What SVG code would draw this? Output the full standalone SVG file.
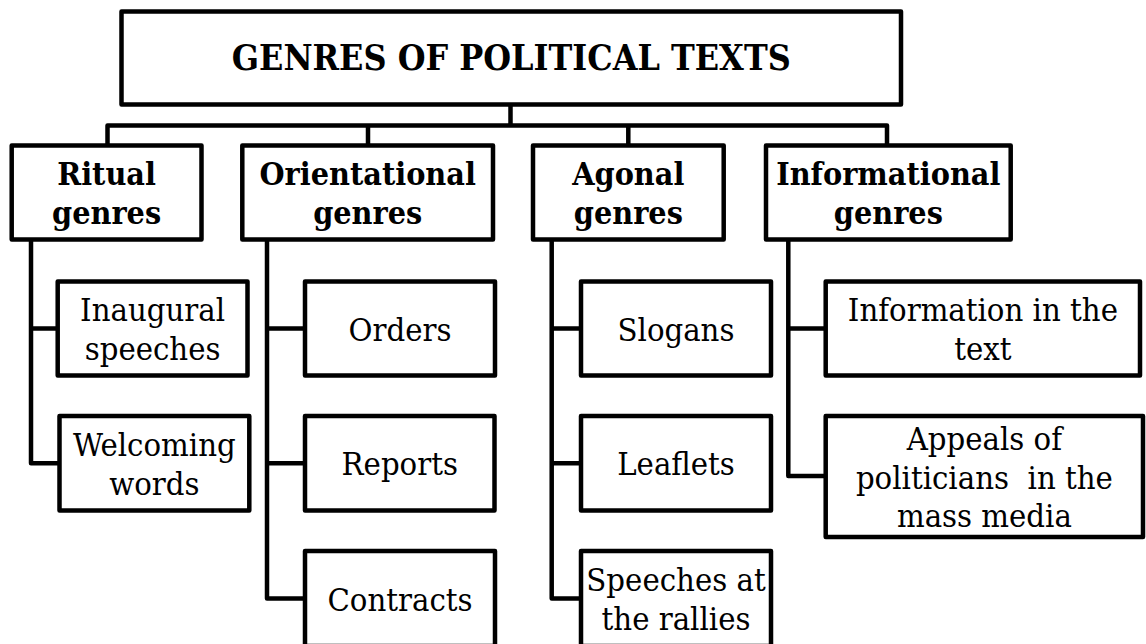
<svg xmlns="http://www.w3.org/2000/svg" width="1146" height="644" viewBox="0 0 1146 644">
<style>
.box{fill:#fff;stroke:#000;stroke-width:4.5;stroke-linejoin:round}
.con{fill:none;stroke:#000;stroke-width:4.5;stroke-linejoin:round}
text{font-family:'DejaVu Serif','Liberation Serif',serif;font-stretch:condensed;font-size:32.5px;fill:#000;text-anchor:middle}
.t{font-weight:bold;font-size:35.5px}
.b{font-weight:bold;font-size:32px}
</style>
<rect width="1146" height="644" fill="#fff"/>
<g id="connectors">
<path class="con" d="M510.5,104.5V125.5M107.5,145.5V125.5H887V145.5M368,125.5V145.5M628.3,125.5V145.5"/>
<path class="con" d="M31,239.5V463.25H59.5M31,328.5H57.7"/>
<path class="con" d="M267,239.5V598.5H305M267,328.5H305M267,463.25H305"/>
<path class="con" d="M551.7,239.5V598.5H581M551.7,328.5H581M551.7,463.25H581"/>
<path class="con" d="M788.3,239.5V476H825.7M788.3,328.5H825.7"/>
</g>
<g id="root">
<rect class="box" x="121.5" y="11.5" width="779.5" height="93"/>
<text class="t" x="511.25" y="69.5">GENRES OF POLITICAL TEXTS</text>
</g>
<g id="ritual">
<rect class="box" x="11.7" y="145.5" width="189.8" height="94"/>
<text class="b" x="106.6"><tspan x="106.6" y="185.25">Ritual</tspan><tspan x="106.6" y="223.75">genres</tspan></text>
</g>
<g id="orientational">
<rect class="box" x="242.3" y="145.5" width="250.7" height="94"/>
<text class="b" x="367.7"><tspan x="367.7" y="185.25">Orientational</tspan><tspan x="367.7" y="223.75">genres</tspan></text>
</g>
<g id="agonal">
<rect class="box" x="533" y="145.5" width="190.7" height="94"/>
<text class="b" x="628.3"><tspan x="628.3" y="185.25">Agonal</tspan><tspan x="628.3" y="223.75">genres</tspan></text>
</g>
<g id="informational">
<rect class="box" x="766" y="145.5" width="244.7" height="94"/>
<text class="b" x="888.3"><tspan x="888.3" y="185.25">Informational</tspan><tspan x="888.3" y="223.75">genres</tspan></text>
</g>
<g id="inaugural">
<rect class="box" x="57.7" y="281.5" width="189.8" height="94"/>
<text x="152.6"><tspan x="152.6" y="321.25">Inaugural</tspan><tspan x="152.6" y="359.75">speeches</tspan></text>
</g>
<g id="welcoming">
<rect class="box" x="59.5" y="416" width="189.8" height="94.5"/>
<text x="154.4"><tspan x="154.4" y="456">Welcoming</tspan><tspan x="154.4" y="494.5">words</tspan></text>
</g>
<g id="orders">
<rect class="box" x="305" y="281.5" width="190" height="94"/>
<text x="400" y="340.5">Orders</text>
</g>
<g id="reports">
<rect class="box" x="305" y="416" width="189.5" height="94.5"/>
<text x="399.75" y="475.25">Reports</text>
</g>
<g id="contracts">
<rect class="box" x="305" y="551" width="190" height="95"/>
<text x="400" y="610.5">Contracts</text>
</g>
<g id="slogans">
<rect class="box" x="581" y="281.5" width="190" height="94"/>
<text x="676" y="340.5">Slogans</text>
</g>
<g id="leaflets">
<rect class="box" x="581" y="416" width="190" height="94.5"/>
<text x="676" y="475.25">Leaflets</text>
</g>
<g id="speeches">
<rect class="box" x="581" y="551" width="190" height="95"/>
<text x="676"><tspan x="676" y="591.25">Speeches at</tspan><tspan x="676" y="629.75">the rallies</tspan></text>
</g>
<g id="information">
<rect class="box" x="825.7" y="281.5" width="314.3" height="94"/>
<text x="982.9"><tspan x="982.9" y="321.25">Information in the</tspan><tspan x="982.9" y="359.75">text</tspan></text>
</g>
<g id="appeals">
<rect class="box" x="825.7" y="416" width="317.3" height="121"/>
<text x="984.4" xml:space="preserve"><tspan x="984.4" y="450">Appeals of</tspan><tspan x="984.4" y="488.5">politicians  in the</tspan><tspan x="984.4" y="527">mass media</tspan></text>
</g>
</svg>
